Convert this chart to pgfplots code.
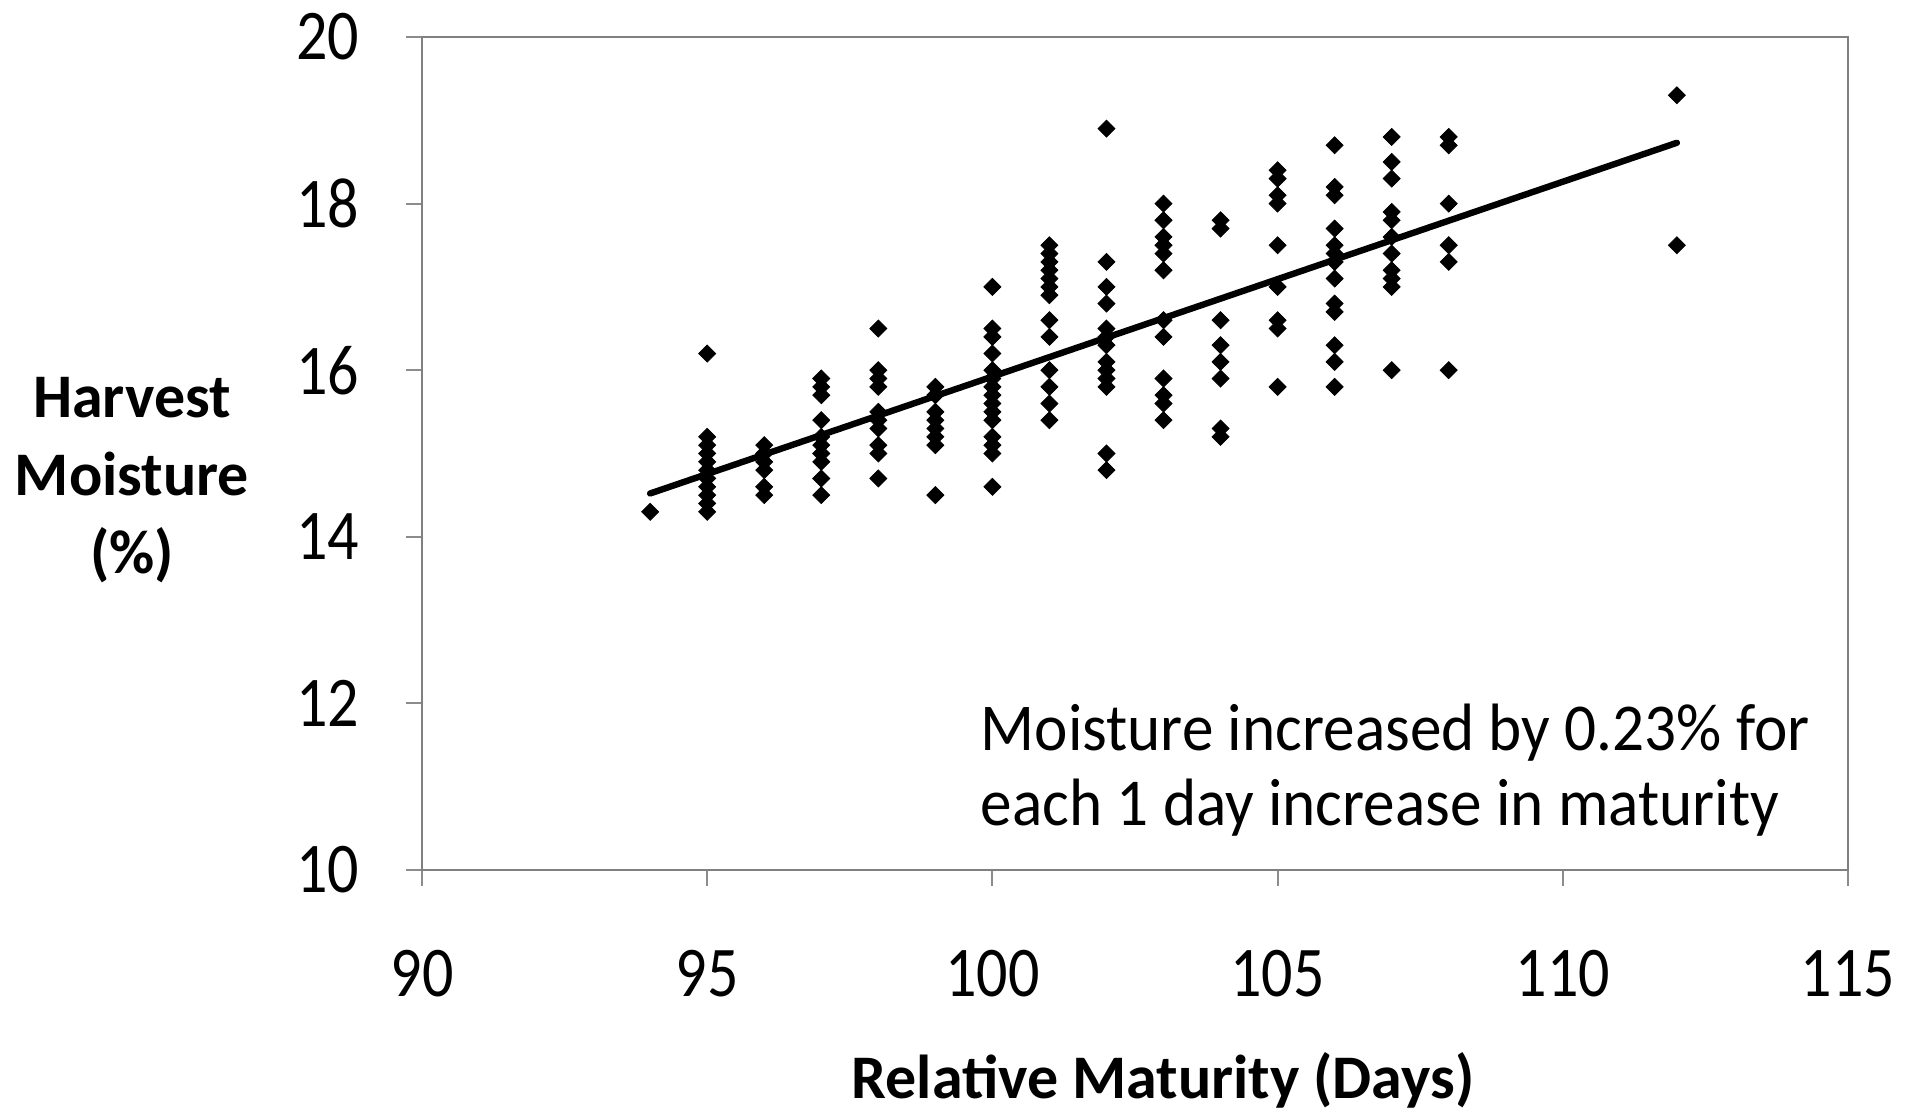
\documentclass[border=0pt]{standalone}
\usepackage{fontspec}
\setmainfont{Carlito}
\usepackage{graphicx}
\usepackage{pgfplots}
\pgfplotsset{compat=1.18}
\newcommand{\tall}[1]{\scalebox{1}[1.15]{#1}}
\begin{document}
\begin{tikzpicture}
\path[use as bounding box] (-211pt,-121.5pt) rectangle (745.5pt,435pt);
\begin{axis}[
  scale only axis,
  width=713pt, height=416.5pt,
  xmin=90, xmax=115, ymin=10, ymax=20,
  xtick={90,95,...,115}, ytick={10,12,...,20},
  xtick pos=left, ytick pos=left,
  tick align=outside,
  major tick length=8pt,
  axis line style={draw=black!50, line width=0.8pt},
  tick style={draw=black!45, line width=1pt},
  /pgf/number format/assume math mode=true,
  ticklabel style={font=\fontsize{31}{37}\selectfont},
  xticklabel={\tall{\pgfmathprintnumber{\tick}}},
  yticklabel={\tall{\pgfmathprintnumber{\tick}}},
  xticklabel style={yshift=-28.7pt},
  yticklabel style={xshift=-20pt},
  xlabel={Relative Maturity (Days)},
  xlabel style={font=\fontsize{31}{37}\selectfont\bfseries, at={(axis description cs:0.5196,0)}, anchor=base, yshift=-114pt},
  ylabel={Harvest\\Moisture\\(\%)},
  ylabel style={font=\fontsize{31}{39}\selectfont\bfseries, align=center, rotate=-90, at={(axis description cs:-0.2034,0.4682)}, anchor=center},
  clip=false,
]
\addplot[only marks, mark=square*, mark size=3pt, mark options={rotate=45, fill=black, draw=black}] coordinates {
(94,14.3)
(95,16.2)(95,15.2)(95,15.1)(95,15.0)(95,14.9)(95,14.8)(95,14.7)(95,14.6)(95,14.5)(95,14.4)(95,14.3)
(96,15.1)(96,15.0)(96,14.9)(96,14.8)(96,14.6)(96,14.5)
(97,15.9)(97,15.8)(97,15.7)(97,15.4)(97,15.2)(97,15.1)(97,15.0)(97,14.9)(97,14.7)(97,14.5)
(98,16.5)(98,16.0)(98,15.9)(98,15.8)(98,15.5)(98,15.4)(98,15.3)(98,15.1)(98,15.0)(98,14.7)
(99,15.8)(99,15.7)(99,15.5)(99,15.4)(99,15.3)(99,15.2)(99,15.1)(99,14.5)
(100,17.0)(100,16.5)(100,16.4)(100,16.2)(100,16.0)(100,15.9)(100,15.8)(100,15.7)(100,15.6)(100,15.5)(100,15.4)(100,15.2)(100,15.1)(100,15.0)(100,14.6)
(101,17.5)(101,17.4)(101,17.3)(101,17.2)(101,17.1)(101,17.0)(101,16.9)(101,16.6)(101,16.4)(101,16.0)(101,15.8)(101,15.6)(101,15.4)
(102,18.9)(102,17.3)(102,17.0)(102,16.8)(102,16.5)(102,16.4)(102,16.3)(102,16.1)(102,16.0)(102,15.9)(102,15.8)(102,15.0)(102,14.8)
(103,18.0)(103,17.8)(103,17.6)(103,17.5)(103,17.4)(103,17.2)(103,16.6)(103,16.4)(103,15.9)(103,15.7)(103,15.6)(103,15.4)
(104,17.8)(104,17.7)(104,16.6)(104,16.3)(104,16.1)(104,15.9)(104,15.3)(104,15.2)
(105,18.4)(105,18.3)(105,18.1)(105,18.0)(105,17.5)(105,17.0)(105,16.6)(105,16.5)(105,15.8)
(106,18.7)(106,18.2)(106,18.1)(106,17.7)(106,17.5)(106,17.4)(106,17.3)(106,17.1)(106,16.8)(106,16.7)(106,16.3)(106,16.1)(106,15.8)
(107,18.8)(107,18.5)(107,18.3)(107,17.9)(107,17.8)(107,17.6)(107,17.4)(107,17.2)(107,17.1)(107,17.0)(107,16.0)
(108,18.8)(108,18.7)(108,18.0)(108,17.5)(108,17.3)(108,16.0)
(112,19.3)(112,17.5)
};
\addplot[black, line width=3.2pt, line cap=round, no marks] coordinates {(94,14.52)(112,18.73)};
\node[anchor=base west, font=\fontsize{31.6}{37}\selectfont, inner sep=0pt] at (axis cs:99.79,11.44) {\scalebox{1}[1.06]{Moisture increased by 0.23\% for}};
\node[anchor=base west, font=\fontsize{31.6}{37}\selectfont, inner sep=0pt] at (axis cs:99.79,10.53) {\scalebox{1}[1.06]{each 1 day increase in maturity}};
\end{axis}
\end{tikzpicture}
\end{document}
